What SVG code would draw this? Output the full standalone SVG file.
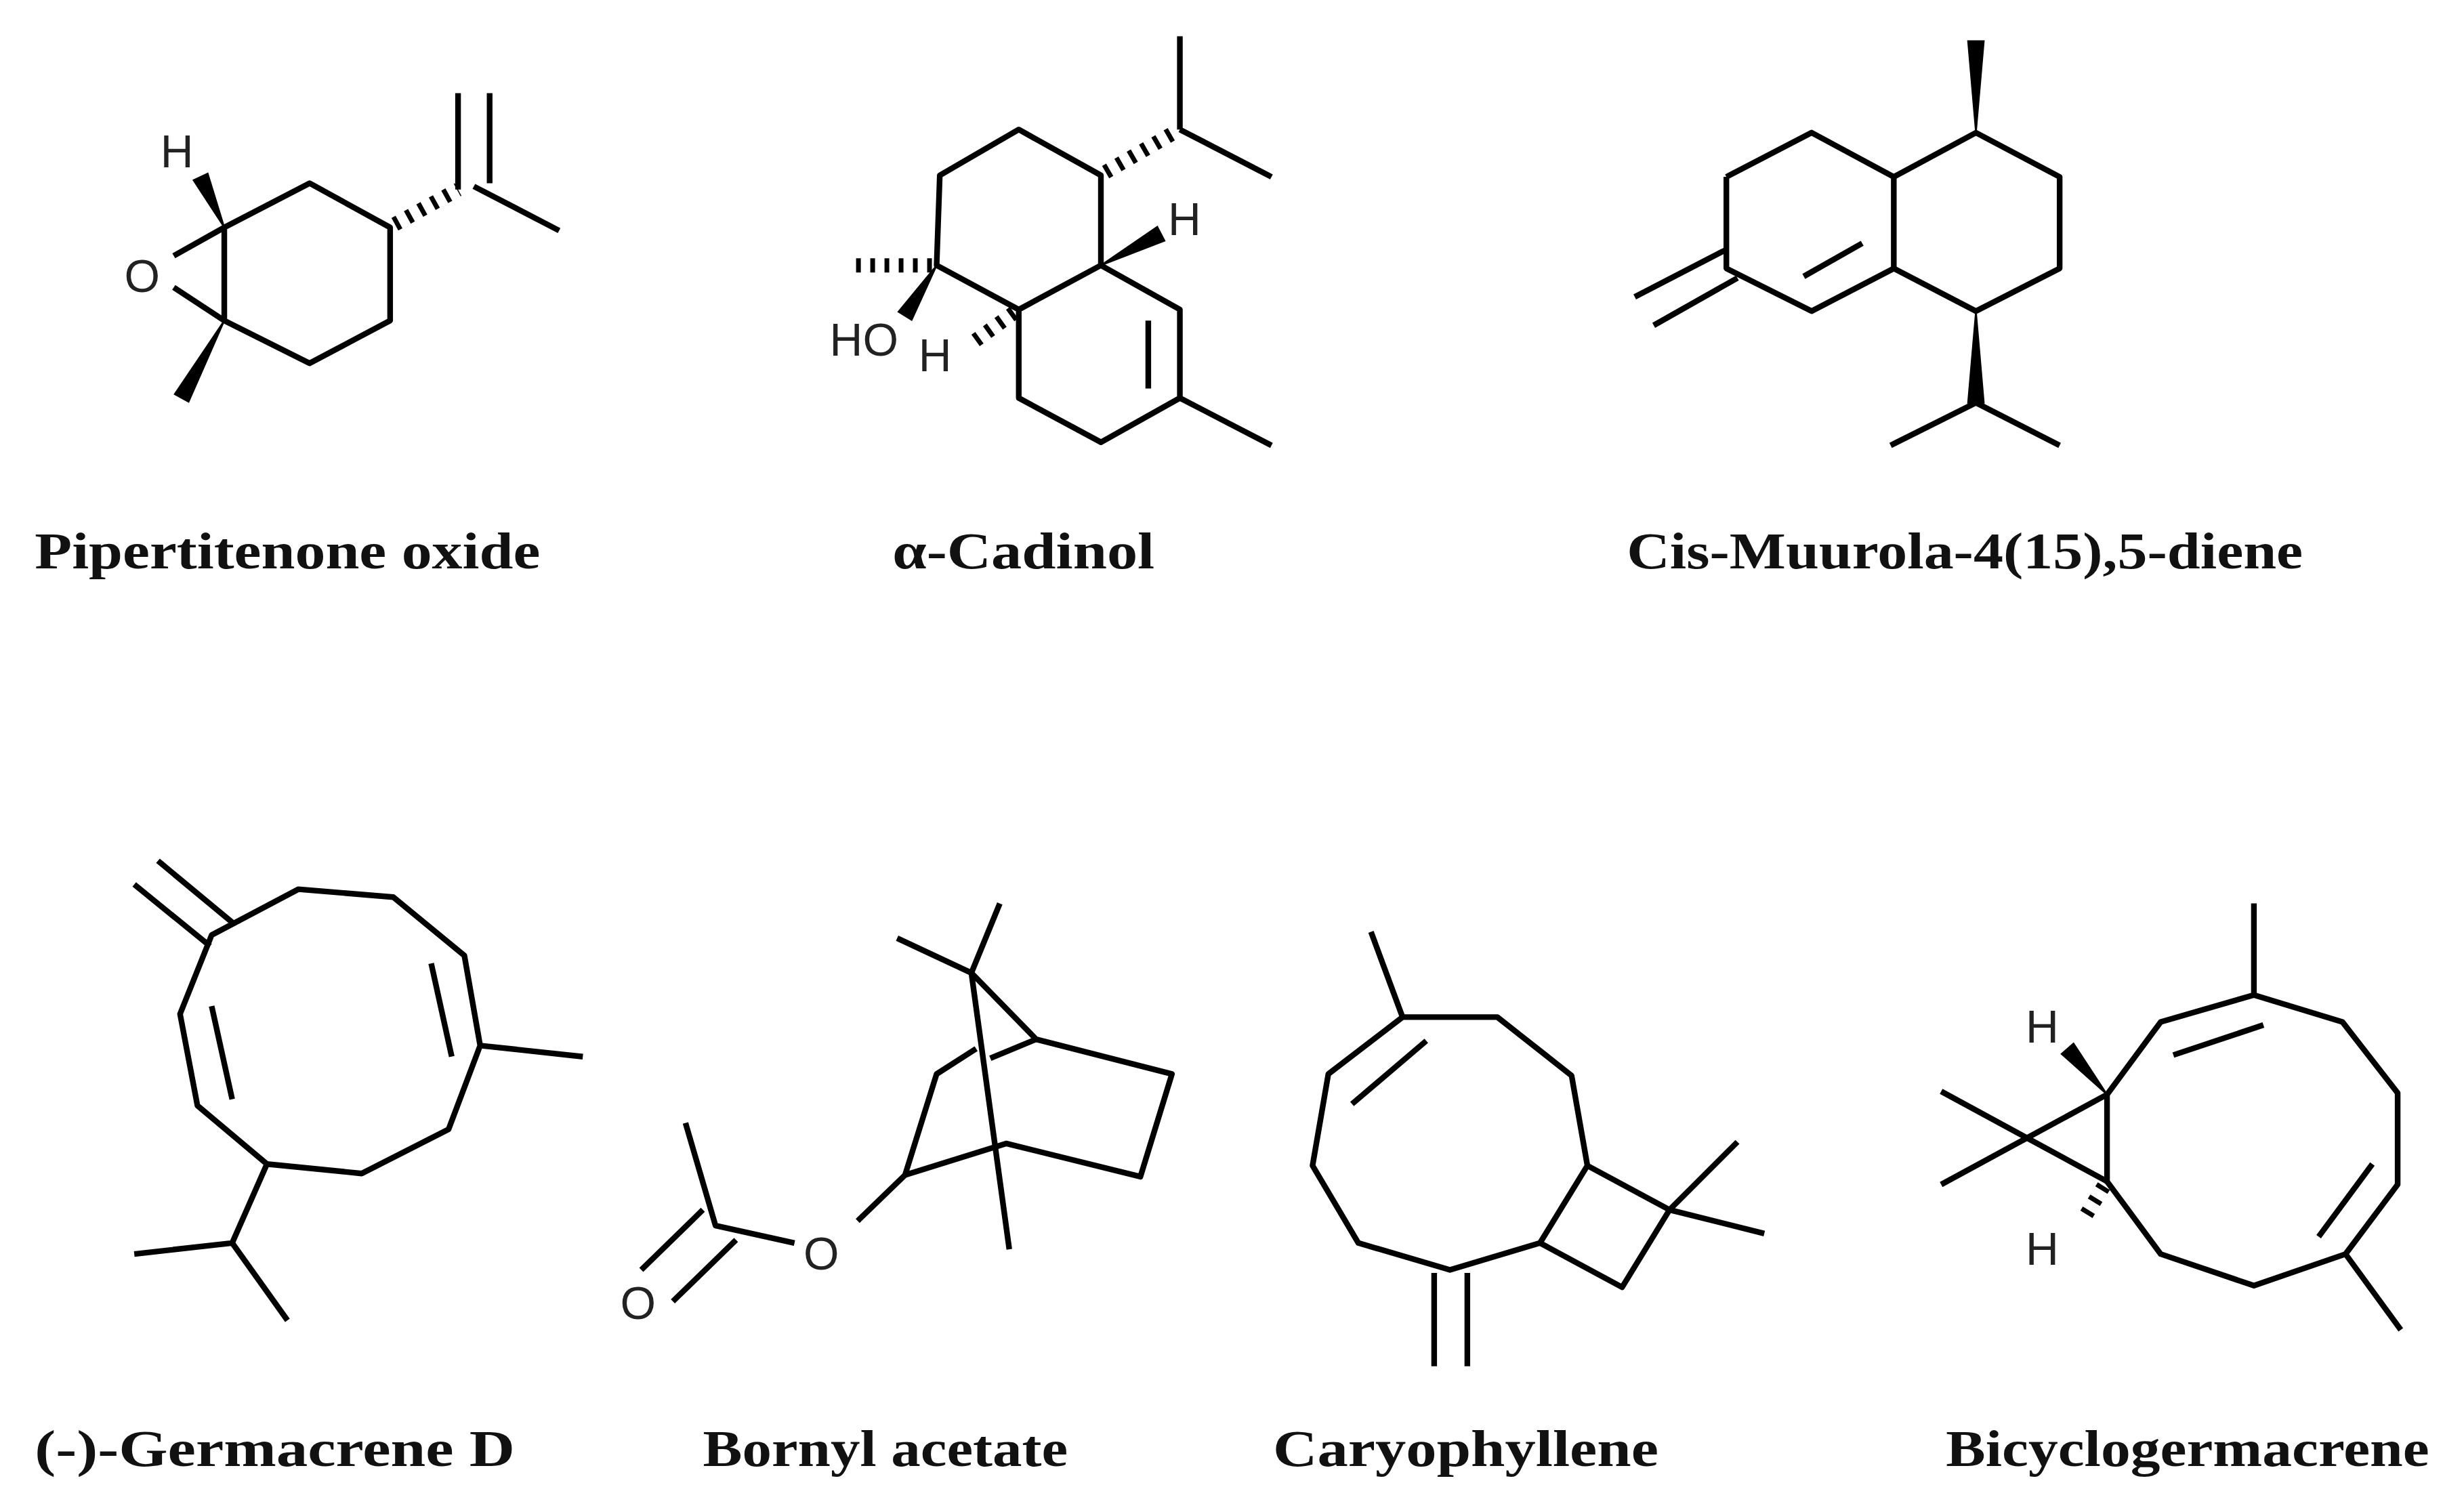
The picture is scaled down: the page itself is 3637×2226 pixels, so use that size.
<svg xmlns="http://www.w3.org/2000/svg" width="3637" height="2226" viewBox="0 0 3637 2226">
<style>
.b{fill:none;stroke:#000;stroke-width:3.6;stroke-linejoin:round;stroke-linecap:butt}
.h{fill:none;stroke:#000;stroke-width:9;stroke-dasharray:3 6}
.w{fill:#000;stroke:#000;stroke-width:1}
.a{font-family:"Liberation Sans",Arial,sans-serif;font-size:29px;fill:#222;text-anchor:middle}
.t{font-family:"Liberation Serif","Times New Roman",serif;font-size:33px;font-weight:bold;fill:#111}
</style>
<rect width="3637" height="2226" fill="#fff"/>
<g transform="scale(2.3314)">
<g id="pipertitenone">
<polyline class="b" points="142,144 196,116 247,144 247,203 196,230 142,203 142,144"/>
<line class="b" x1="142" y1="144" x2="110" y2="162"/>
<line class="b" x1="142" y1="203" x2="110" y2="182"/>
<line class="h" x1="250" y1="142" x2="290" y2="120"/>
<line class="b" x1="290" y1="59" x2="290" y2="120"/>
<line class="b" x1="310" y1="59" x2="310" y2="116"/>
<line class="b" x1="300" y1="118" x2="354" y2="146"/>
<polygon class="w" points="142,144 131.5,109.9 122.5,114.1"/>
<polygon class="w" points="142,203 119.4,254.4 110.6,249.6"/>
<text class="a" x="112" y="106">H</text>
<text class="a" x="90" y="185">O</text>
<text class="t" x="22" y="360" textLength="320" lengthAdjust="spacingAndGlyphs">Pipertitenone oxide</text>
</g>
<g id="cadinol">
<polyline class="b" points="697,168 697,111 645,82 595,111 593,168 645,196 697,168 747,196 747,252 697,280 645,252 645,196"/>
<line class="b" x1="727" y1="203" x2="727" y2="246"/>
<line class="b" x1="747" y1="252" x2="805" y2="282"/>
<line class="h" x1="700" y1="109" x2="745" y2="83"/>
<line class="b" x1="747" y1="23" x2="747" y2="82"/>
<line class="b" x1="747" y1="82" x2="805" y2="112"/>
<line class="h" x1="590" y1="168" x2="540" y2="168"/>
<line class="h" x1="642" y1="198" x2="617" y2="216"/>
<polygon class="w" points="697,168 737.3,152.4 732.7,143.6"/>
<polygon class="w" points="593,168 577.2,202.6 568.8,197.4"/>
<text class="a" x="750" y="149">H</text>
<text class="a" x="547" y="225">HO</text>
<text class="a" x="592" y="235">H</text>
<text class="t" x="565" y="360" textLength="166" lengthAdjust="spacingAndGlyphs">α-Cadinol</text>
</g>
<g id="muurola">
<polyline class="b" points="1093,112 1147,84 1199,112 1199,170 1147,197 1093,170 1093,112"/>
<polyline class="b" points="1199,112 1251,84 1304,112 1304,170 1251,197 1199,170"/>
<line class="b" x1="1142" y1="175" x2="1179" y2="154"/>
<line class="b" x1="1093" y1="158" x2="1035" y2="188"/>
<line class="b" x1="1100" y1="176" x2="1047" y2="206"/>
<polygon class="w" points="1251,84 1256,26 1246,26"/>
<polygon class="w" points="1251,197 1256,255 1246,255"/>
<line class="b" x1="1197" y1="282" x2="1251" y2="255"/>
<line class="b" x1="1304" y1="282" x2="1251" y2="255"/>
<text class="t" x="1030" y="360" textLength="428" lengthAdjust="spacingAndGlyphs">Cis-Muurola-4(15),5-diene</text>
</g>
<g id="germacrene">
<polygon class="b" points="134,592 189,563 249,568 294,605 304,662 284,715 229,743 169,737 125,700 114,642"/>
<line class="b" x1="273" y1="610" x2="286" y2="669"/>
<line class="b" x1="134" y1="637" x2="147" y2="696"/>
<line class="b" x1="100" y1="545" x2="147" y2="584"/>
<line class="b" x1="85" y1="560" x2="133" y2="599"/>
<line class="b" x1="304" y1="662" x2="369" y2="669"/>
<polyline class="b" points="169,737 147,787 85,794"/>
<line class="b" x1="147" y1="787" x2="182" y2="836"/>
<text class="t" x="22" y="928" textLength="304" lengthAdjust="spacingAndGlyphs">(-)-Germacrene D</text>
</g>
<g id="bornyl">
<line class="b" x1="615" y1="616" x2="639" y2="791"/>
<line class="b" x1="568" y1="594" x2="615" y2="616"/>
<line class="b" x1="633" y1="572" x2="615" y2="616"/>
<polyline class="b" points="615,616 656,658 742,680 722,745 637,724 573,744 593,680 618,664"/>
<line class="b" x1="627" y1="670" x2="656" y2="658"/>
<line class="b" x1="573" y1="744" x2="543" y2="773"/>
<polyline class="b" points="503,787 453,776 434,711"/>
<line class="b" x1="445" y1="766" x2="406" y2="804"/>
<line class="b" x1="466" y1="785" x2="426" y2="824"/>
<text class="a" x="520" y="804">O</text>
<text class="a" x="404" y="835">O</text>
<text class="t" x="445" y="928" textLength="231" lengthAdjust="spacingAndGlyphs">Bornyl acetate</text>
</g>
<g id="caryophyllene">
<polygon class="b" points="888,644 948,644 995,681 1005,738 975,787 918,804 860,787 831,738 841,680"/>
<line class="b" x1="888" y1="644" x2="868" y2="590"/>
<line class="b" x1="903" y1="659" x2="856" y2="699"/>
<polyline class="b" points="1005,738 1057,766 1027,815 975,787"/>
<line class="b" x1="1057" y1="766" x2="1100" y2="723"/>
<line class="b" x1="1057" y1="766" x2="1117" y2="781"/>
<line class="b" x1="908" y1="806" x2="908" y2="865"/>
<line class="b" x1="929" y1="806" x2="929" y2="865"/>
<text class="t" x="806" y="928" textLength="244" lengthAdjust="spacingAndGlyphs">Caryophyllene</text>
</g>
<g id="bicyclogermacrene">
<polygon class="b" points="1427,630 1368,647 1334,693 1334,748 1368,794 1427,814 1485,794 1518,750 1518,692 1483,647"/>
<line class="b" x1="1427" y1="572" x2="1427" y2="630"/>
<line class="b" x1="1376" y1="668" x2="1433" y2="649"/>
<line class="b" x1="1468" y1="783" x2="1502" y2="737"/>
<line class="b" x1="1485" y1="794" x2="1520" y2="842"/>
<line class="b" x1="1229" y1="691" x2="1334" y2="748"/>
<line class="b" x1="1229" y1="750" x2="1334" y2="693"/>
<polygon class="w" points="1334,693 1312.8,660.7 1305.2,667.3"/>
<line class="h" x1="1332" y1="751" x2="1319" y2="772"/>
<text class="a" x="1293" y="660">H</text>
<text class="a" x="1293" y="801">H</text>
<text class="t" x="1232" y="928" textLength="306" lengthAdjust="spacingAndGlyphs">Bicyclogermacrene</text>
</g>
</g>
</svg>
